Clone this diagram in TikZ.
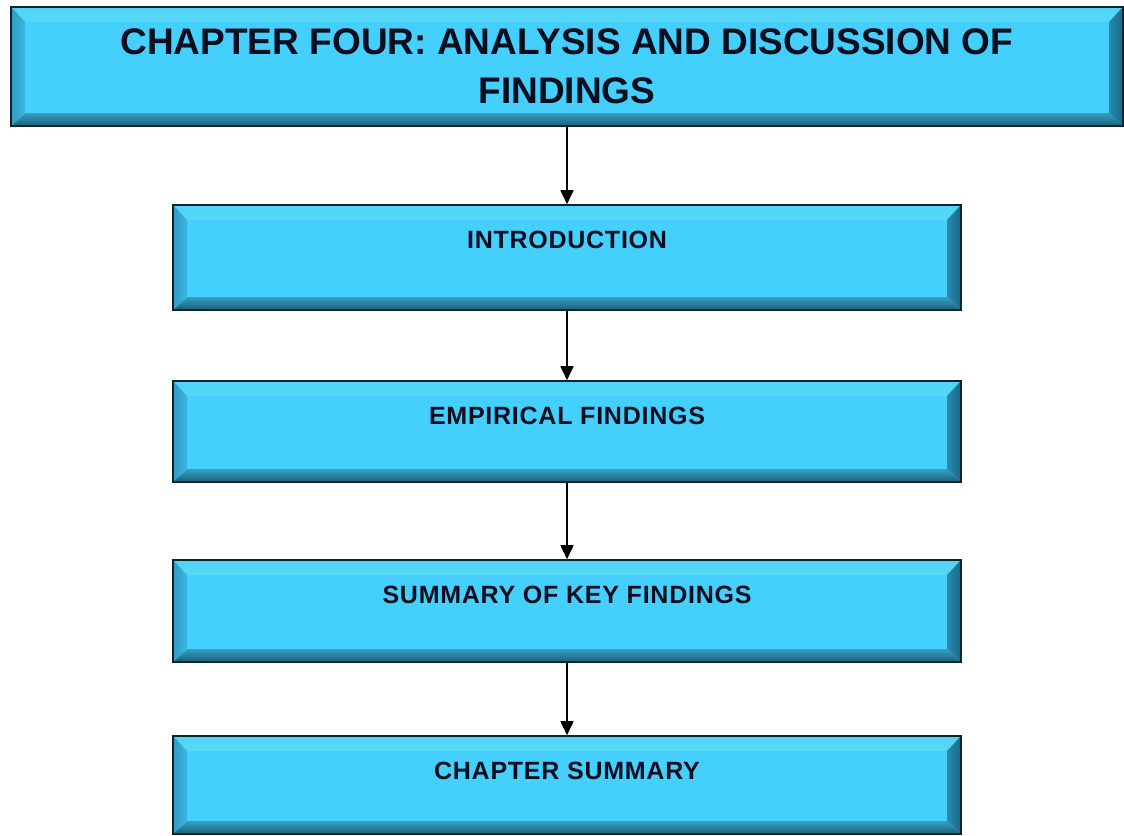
\documentclass[tikz,border=0pt]{standalone}
\usepackage{fontspec}
\setmainfont{Liberation Sans}
\newfontfamily\boxfont[LetterSpace=3]{Liberation Sans}
\usetikzlibrary{arrows.meta}

\definecolor{face}{RGB}{68,207,252}
\definecolor{bevhi}{RGB}{125,240,255}
\definecolor{bevtopout}{RGB}{80,212,246}
\definecolor{bevleft}{RGB}{58,182,226}
\definecolor{bevright}{RGB}{38,138,176}
\definecolor{bevbottop}{RGB}{56,158,194}
\definecolor{bevbotbot}{RGB}{26,96,120}
\definecolor{edge}{RGB}{18,34,44}
\definecolor{ink}{RGB}{8,14,30}

\tikzset{
  % raised bevelled panel: flat face plus four shaded edge strips
  bevelpanel/.style={
    rectangle, fill=face, draw=edge, line width=1.6pt, inner sep=0pt,
    path picture={
      \fill[top color=bevtopout, bottom color=bevhi]
        (path picture bounding box.north west) -- (path picture bounding box.north east)
        -- ([shift={(-14pt,-15pt)}]path picture bounding box.north east)
        -- ([shift={(14pt,-15pt)}]path picture bounding box.north west) -- cycle;
      \fill[top color=bevbottop, bottom color=bevbotbot]
        (path picture bounding box.south west) -- (path picture bounding box.south east)
        -- ([shift={(-14pt,13pt)}]path picture bounding box.south east)
        -- ([shift={(14pt,13pt)}]path picture bounding box.south west) -- cycle;
      \fill[left color=bevleft!85!black, right color=bevleft]
        (path picture bounding box.north west) -- ([shift={(14pt,-15pt)}]path picture bounding box.north west)
        -- ([shift={(14pt,13pt)}]path picture bounding box.south west)
        -- (path picture bounding box.south west) -- cycle;
      \fill[left color=bevright, right color=bevright!75!black]
        (path picture bounding box.north east) -- ([shift={(-14pt,-15pt)}]path picture bounding box.north east)
        -- ([shift={(-14pt,13pt)}]path picture bounding box.south east)
        -- (path picture bounding box.south east) -- cycle;
    }},
  titlepanel/.style={bevelpanel, minimum width=1112pt, minimum height=119pt,
    align=center, text=ink, font=\bfseries\fontsize{37pt}{49pt}\selectfont},
  steppanel/.style={bevelpanel, minimum width=788pt},
  boxtext/.style={anchor=center, yshift=-36pt, text=ink,
    font=\boxfont\bfseries\fontsize{25pt}{30pt}\selectfont},
  flow/.style={draw=black, line width=1.7pt, -{Triangle[length=14pt,width=13pt]}}
}

\begin{document}
\begin{tikzpicture}[x=1pt, y=-1pt]
  \useasboundingbox (0,0) rectangle (1124,835);
  \fill[white] (0,0) rectangle (1124,835);

  \node[titlepanel] (title) at (567,66.5)
    {CHAPTER FOUR: ANALYSIS AND DISCUSSION OF\\FINDINGS};

  \node[steppanel, minimum height=105pt,
        label={[boxtext]north:INTRODUCTION}] (intro) at (567,257.5) {};
  \node[steppanel, minimum height=101pt,
        label={[boxtext]north:EMPIRICAL FINDINGS}] (empirical) at (567,431.5) {};
  \node[steppanel, minimum height=102pt,
        label={[boxtext]north:SUMMARY OF KEY FINDINGS}] (keyfindings) at (567,611) {};
  \node[steppanel, minimum height=98pt,
        label={[boxtext]north:CHAPTER SUMMARY}] (chapsummary) at (567,785) {};

  \draw[flow] (title) -- (intro);
  \draw[flow] (intro) -- (empirical);
  \draw[flow] (empirical) -- (keyfindings);
  \draw[flow] (keyfindings) -- (chapsummary);
\end{tikzpicture}
\end{document}
